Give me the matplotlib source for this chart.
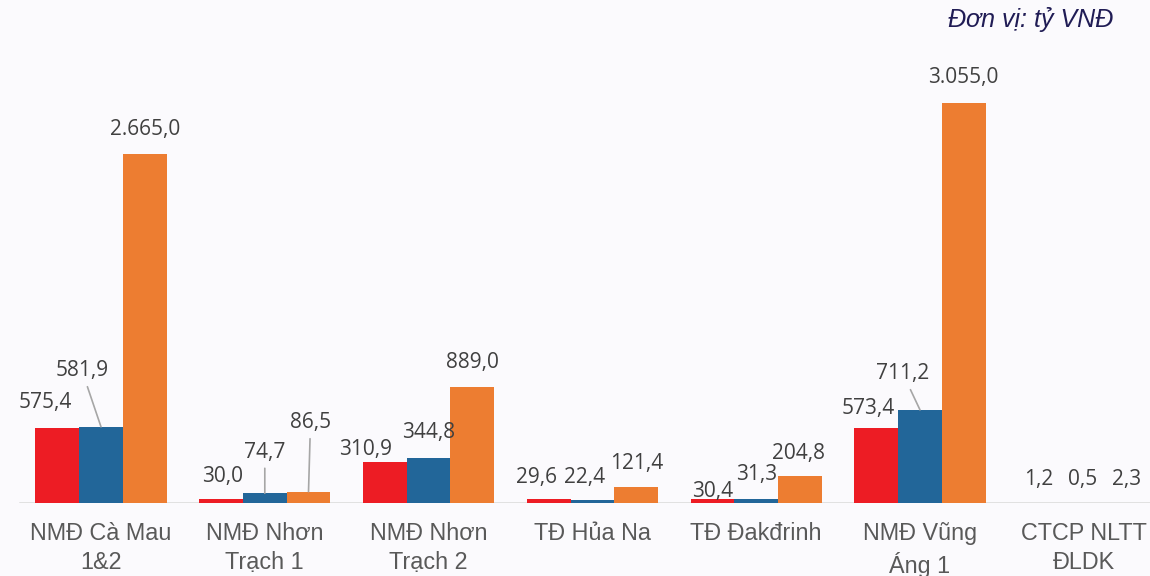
import matplotlib
matplotlib.use("Agg")
import matplotlib.pyplot as plt
import numpy as np

# Data (tỷ VNĐ)
categories = ["NMĐ Cà Mau\n1&2", "NMĐ Nhơn\nTrạch 1", "NMĐ Nhơn\nTrạch 2", "TĐ Hủa Na",
              "TĐ Đakđrinh", "NMĐ Vũng\nÁng 1", "CTCP NLTT\nĐLDK"]
series_red = [575.4, 30.0, 310.9, 29.6, 30.4, 573.4, 1.2]
series_blue = [581.9, 74.7, 344.8, 22.4, 31.3, 711.2, 0.5]
series_orange = [2665.0, 86.5, 889.0, 121.4, 204.8, 3055.0, 2.3]

colors = ["#ED1C24", "#226699", "#ED7D31"]

# label offsets from bar top, in pixels (dx, dy); leader lines drawn for some
label_offsets = [
    [(-12, 25), (-19, 56), (0, 25)],
    [(1, 23), (0, 41), (2, 69)],
    [(-19, 13), (0, 25), (0, 24)],
    [(-12, 22), (-8, 23), (1, 24)],
    [(0, 8), (0, 24), (-1, 23)],
    [(-8, 19), (-17, 36), (0, 25)],
    [(-1, 23), (-1, 23), (-1, 23)],
]
leaders = {(0, 1), (1, 1), (1, 2), (5, 1)}

BG = "#FBFAFD"


def fmt_vn(v):
    s = f"{v:,.1f}"
    return s.replace(",", "X").replace(".", ",").replace("X", ".")


fig = plt.figure(figsize=(11.5, 5.76), dpi=100, facecolor=BG)
ax = fig.add_axes([0, 1 - 503 / 576, 1, 503 / 576])
ax.set_facecolor(BG)

x = np.arange(len(categories))
width = 0.2668
all_series = [series_red, series_blue, series_orange]

ax.axhline(0, xmin=20 / 1150, xmax=1, color="#D9D9D9", lw=1.8, zorder=1)

for j, (vals, col) in enumerate(zip(all_series, colors)):
    xs = x + (j - 1) * width
    ax.bar(xs, vals, width=width, color=col, zorder=2)
    for i, v in enumerate(vals):
        dx, dy = label_offsets[i][j]
        kw = {}
        if (i, j) in leaders:
            kw["arrowprops"] = dict(arrowstyle="-", color="#A6A6A6", lw=1.2,
                                    shrinkA=2, shrinkB=0)
        ax.annotate(fmt_vn(v), xy=(xs[i], v), xytext=(dx, dy),
                    textcoords="offset pixels", ha="center", va="center",
                    fontsize=15, color="#404040", family="Open Sans", **kw)

ax.set_xlim(-101 / 163.8, (1150 - 101) / 163.8)
ax.set_ylim(0, 3055 * 503 / 400)
ax.set_xticks(x)
ax.set_xticklabels(categories, fontsize=16.8, color="#595959",
                   family="Liberation Sans", linespacing=1.32)
ax.tick_params(axis="x", length=0, pad=14)
ax.set_yticks([])
for sp in ax.spines.values():
    sp.set_visible(False)

fig.text(1113 / 1150, 1 - 27 / 576, "Đơn vị: tỷ VNĐ", ha="right", va="baseline",
         fontsize=18, style="italic", color="#201C55", family="Liberation Sans")

fig.savefig("out.png", dpi=100, facecolor=BG)
